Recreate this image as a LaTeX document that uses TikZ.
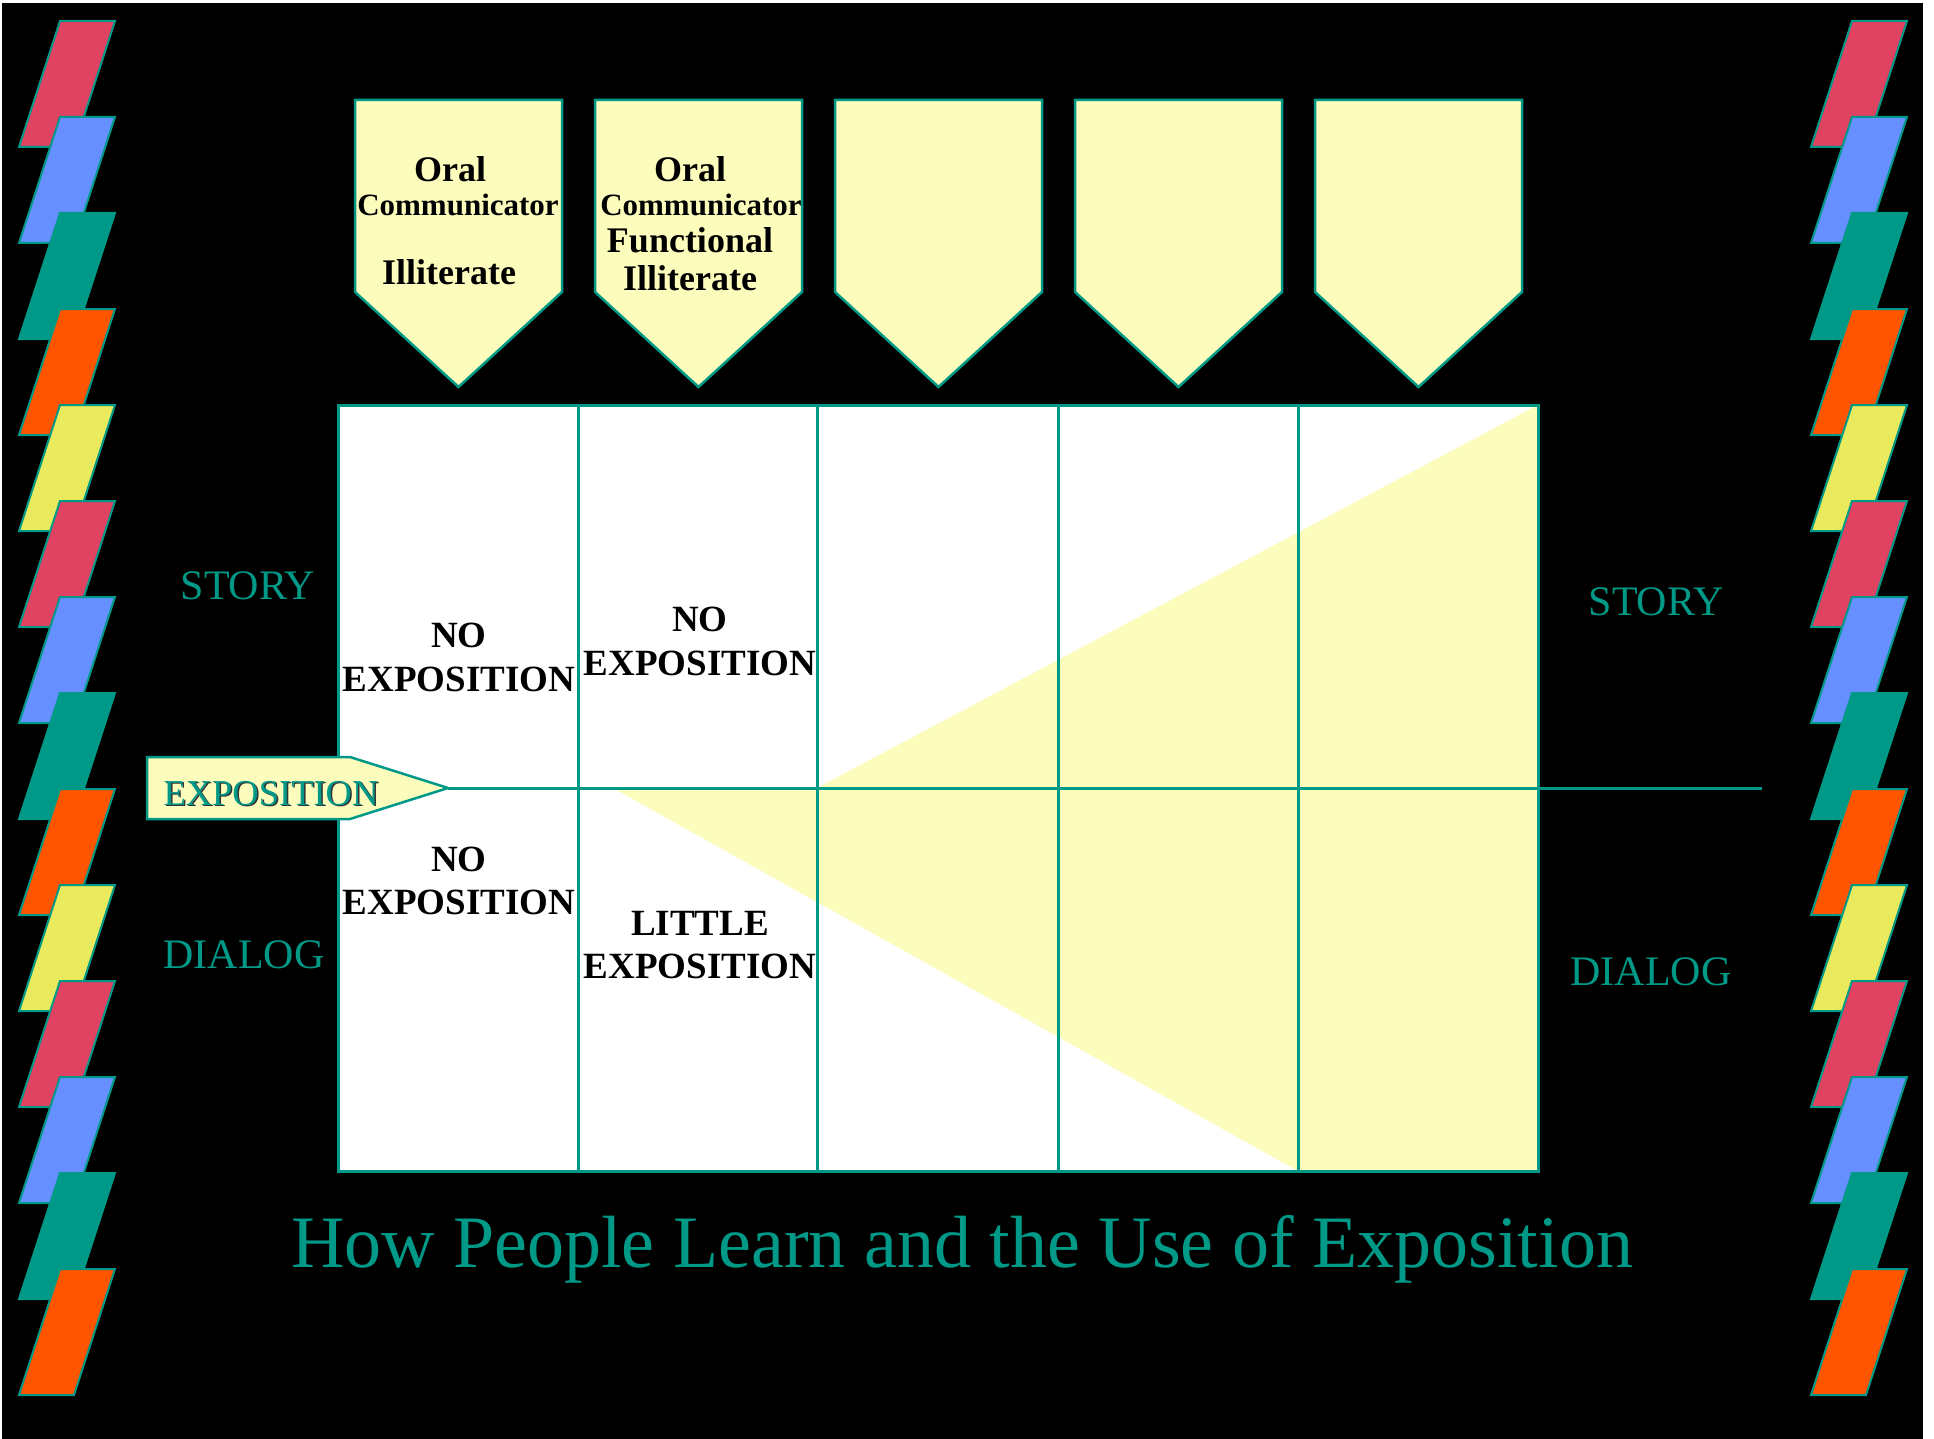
\documentclass[tikz,border=0pt]{standalone}
\usepackage{fontspec}
\setmainfont{Liberation Serif}
\usetikzlibrary{positioning}

\definecolor{slideteal}{RGB}{0,153,136}
\definecolor{paleyellow}{RGB}{252,252,188}
\definecolor{barred}{RGB}{224,66,98}
\definecolor{barblue}{RGB}{102,144,255}
\definecolor{barorange}{RGB}{255,85,0}
\definecolor{baryellow}{RGB}{234,234,94}

\tikzset{
  band/.style={draw=slideteal, line width=2pt, fill=#1},
  shield/.style={draw=slideteal, line width=2.5pt, fill=paleyellow, line join=miter},
  gridline/.style={draw=slideteal, line width=3pt},
  head/.style={font=\bfseries\fontsize{36}{40}\selectfont, inner sep=0pt, anchor=base},
  headsmall/.style={font=\bfseries\fontsize{31}{36}\selectfont, inner sep=0pt, anchor=base},
  cell/.style={font=\bfseries\fontsize{37}{44}\selectfont, inner sep=0pt, anchor=base},
  side/.style={font=\fontsize{42}{48}\selectfont, text=slideteal, inner sep=0pt, anchor=base},
}

\begin{document}
\begin{tikzpicture}[x=1pt, y=-1pt]
    \useasboundingbox (0,0) rectangle (1934,1439);
    \fill[white] (0,0) rectangle (1934,1439);
    \fill[black] (2,3) rectangle (1923,1439);

    % colour bands at both sides
    \foreach \c [count=\i from 0] in {barred,barblue,slideteal,barorange,baryellow,barred,barblue,slideteal,barorange,baryellow,barred,barblue,slideteal,barorange} {
        \pgfmathsetmacro\y{21+96*\i}
        \foreach \dx in {0,1792}
            \draw[band=\c] (60+\dx,\y) -- ++(55,0) -- ++(-41,126) -- ++(-55,0) -- cycle;
    }

    % the five headers
    \foreach \x [count=\k] in {355,595,835,1075,1315}
        \draw[shield] (\x,100) coordinate (top\k) -- ++(207,0) -- ++(0,192) -- ++(-103.5,95) -- ++(-103.5,-95) -- cycle;

    \node[head] (oralA) at (450,182) {Oral};
    \node[headsmall] (commA) at (458,216) {Communicator};
    \node[head] (illA) at (449,284) {Illiterate};

    \node[head] (oralB) at (690,182) {Oral};
    \node[headsmall] (commB) at (701,216) {Communicator};
    \node[head] (funcB) at (690,252) {Functional};
    \node[head] (illB) at (690,290) {Illiterate};

    % the table
    \fill[white] (338,405) rectangle (1538,1171);
    \fill[paleyellow] (613,788) -- (817,788) -- (1538,405) -- (1538,1171) -- (1298,1171) -- cycle;
    \draw[gridline] (338,405) rectangle (1538,1171);
    \foreach \x in {578,817,1058,1298}
        \draw[gridline] (\x,405) -- (\x,1171);

    % exposition arrow and axis
    \draw[shield] (147,757) -- (350,757) -- (448,788) coordinate (expotip) -- (350,819) -- (147,819) -- cycle;
    \coordinate (axisend) at (1762,788);
    \draw[gridline] (expotip) -- (axisend);
    \node[side, font=\fontsize{36.5}{40}\selectfont, text=black!80] (exposhadow) at (272.5,806.5) {EXPOSITION};
    \node[side, font=\fontsize{36.5}{40}\selectfont] (expolabel) at (271,805) {EXPOSITION};

    % cells
    \node[cell] (noA) at (459,647) {NO};
    \node[cell] (expA) at (459,691) {EXPOSITION};
    \node[cell] (noB) at (700,631) {NO};
    \node[cell] (expB) at (700,675) {EXPOSITION};
    \node[cell] (noC) at (459,871) {NO};
    \node[cell] (expC) at (459,914) {EXPOSITION};
    \node[cell] (littleD) at (700,935) {LITTLE};
    \node[cell] (expD) at (700,978) {EXPOSITION};

    % side labels
    \node[side] (storyL) at (248,599) {STORY};
    \node[side] (dialogL) at (244,968) {DIALOG};
    \node[side] (storyR) at (1656,615) {STORY};
    \node[side] (dialogR) at (1651,985) {DIALOG};

    % title
    \node[side, font=\fontsize{74}{80}\selectfont] (title) at (962,1267) {How People Learn and the Use of Exposition};
\end{tikzpicture}
\end{document}
